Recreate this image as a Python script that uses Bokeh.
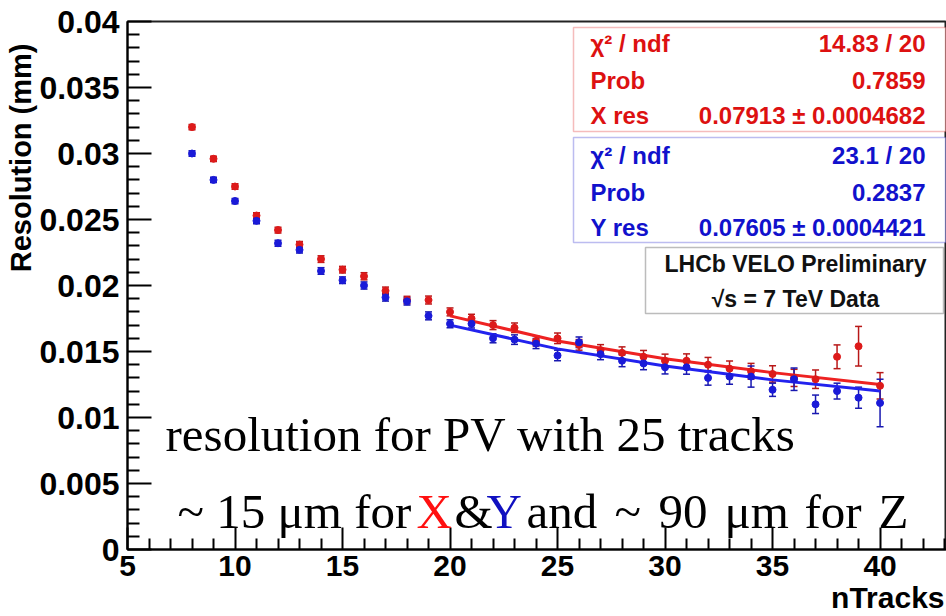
import math
from bokeh.plotting import figure
from bokeh.models import (ColumnDataSource, Whisker, TeeHead, FixedTicker, Label,
                          BoxAnnotation, Range1d, Title)
from bokeh.embed import file_html
from bokeh.resources import INLINE

# ---------------- data ----------------
n_tracks = [8, 9, 10, 11, 12, 13, 14, 15, 16, 17, 18, 19, 20, 21, 22, 23, 24,
            25, 26, 27, 28, 29, 30, 31, 32, 33, 34, 35, 36, 37, 38, 39, 40]

x_res = [0.0320, 0.0296, 0.0275, 0.0253, 0.0242, 0.0231, 0.0220, 0.0212, 0.0207,
         0.0196, 0.0189, 0.0189, 0.0180, 0.0175, 0.0170, 0.0168, 0.0158, 0.0160,
         0.0155, 0.0151, 0.0149, 0.0146, 0.0143, 0.0143, 0.0140, 0.0137, 0.0135,
         0.0133, 0.0130, 0.0129, 0.0146, 0.0154, 0.0124]
x_err = [0.00020, 0.00020, 0.00020, 0.00022, 0.00022, 0.00023, 0.00025, 0.00025,
         0.00027, 0.00028, 0.00028, 0.00030, 0.00030, 0.00032, 0.00034, 0.00036,
         0.00038, 0.00040, 0.00040, 0.00042, 0.00045, 0.00048, 0.00050, 0.00052,
         0.00055, 0.00058, 0.00060, 0.00062, 0.00065, 0.00070, 0.00090, 0.00150,
         0.00100]

y_res = [0.0300, 0.0280, 0.0264, 0.0249, 0.0232, 0.0227, 0.0211, 0.0204, 0.0200,
         0.0191, 0.0188, 0.0177, 0.0171, 0.0171, 0.0160, 0.0159, 0.0156, 0.0147,
         0.0157, 0.0148, 0.0143, 0.0141, 0.0138, 0.0138, 0.0130, 0.0131, 0.0131,
         0.0121, 0.0129, 0.0110, 0.0120, 0.0115, 0.0111]
y_err = [0.00020, 0.00020, 0.00020, 0.00022, 0.00022, 0.00023, 0.00025, 0.00025,
         0.00027, 0.00028, 0.00028, 0.00030, 0.00030, 0.00032, 0.00034, 0.00036,
         0.00038, 0.00040, 0.00040, 0.00042, 0.00045, 0.00048, 0.00050, 0.00052,
         0.00055, 0.00058, 0.00080, 0.00050, 0.00085, 0.00070, 0.00060, 0.00080,
         0.00180]

fit_n = [20, 25, 30, 35, 40]
fit_x = [0.0177, 0.0158, 0.01445, 0.0134, 0.0125]
fit_y = [0.0170, 0.0152, 0.0139, 0.01285, 0.0120]

x_ticks = [5, 10, 15, 20, 25, 30, 35, 40]
x_minor = [6, 7, 8, 9, 11, 12, 13, 14, 16, 17, 18, 19, 21, 22, 23, 24, 26, 27,
           28, 29, 31, 32, 33, 34, 36, 37, 38, 39, 41, 42, 43]
y_ticks = [0, 0.005, 0.01, 0.015, 0.02, 0.025, 0.03, 0.035, 0.04]
y_tick_labels = ["0", "0.005", "0.01", "0.015", "0.02", "0.025", "0.03", "0.035", "0.04"]
y_minor = [0.001, 0.002, 0.003, 0.004, 0.006, 0.007, 0.008, 0.009, 0.011, 0.012,
           0.013, 0.014, 0.016, 0.017, 0.018, 0.019, 0.021, 0.022, 0.023, 0.024,
           0.026, 0.027, 0.028, 0.029, 0.031, 0.032, 0.033, 0.034, 0.036, 0.037,
           0.038, 0.039]

RED = "#dd1a1a"
BLUE = "#1a1ad8"
RED_LINE = "#ee2222"
BLUE_LINE = "#2222ee"

# ---------------- figure ----------------
p = figure(width=946, height=616, output_backend="svg", toolbar_location=None,
           title=None, x_range=Range1d(5, 43.09), y_range=Range1d(0, 0.04),
           min_border_left=127, min_border_right=0, min_border_top=21,
           min_border_bottom=67)
p.background_fill_color = "white"
p.border_fill_color = "white"
p.xgrid.visible = False
p.ygrid.visible = False
p.outline_line_color = "#222222"
p.outline_line_width = 2

for ax in (p.xaxis[0], p.yaxis[0]):
    ax.axis_line_color = "black"
    ax.axis_line_width = 2
    ax.major_tick_line_color = "black"
    ax.minor_tick_line_color = "black"
    ax.major_tick_line_width = 2
    ax.minor_tick_line_width = 2
    ax.major_tick_out = 0
    ax.minor_tick_out = 0
    ax.major_label_text_font = "Liberation Sans"
    ax.major_label_text_font_style = "bold"
    ax.major_label_text_color = "black"

p.xaxis.ticker = FixedTicker(ticks=x_ticks, minor_ticks=x_minor)
p.xaxis.major_tick_in = 22
p.xaxis.minor_tick_in = 11
p.xaxis.major_label_standoff = 6
p.xaxis.major_label_text_font_size = "30px"

p.yaxis.ticker = FixedTicker(ticks=y_ticks, minor_ticks=y_minor)
p.yaxis.major_label_overrides = {t: s for t, s in zip(y_ticks, y_tick_labels)}
p.yaxis.major_tick_in = 24
p.yaxis.minor_tick_in = 12
p.yaxis.major_label_standoff = 8
p.yaxis.major_label_text_font_size = "32px"

# axis titles as side titles, pushed to the ends
p.add_layout(Title(text="Resolution (mm)", align="right", text_font="Liberation Sans",
                   text_font_size="29px", text_font_style="bold",
                   text_color="black", standoff=0, offset=22), "left")
p.add_layout(Title(text="nTracks", align="right", text_font="Liberation Sans",
                   text_font_size="30px", text_font_style="bold",
                   text_color="black", standoff=0, offset=2), "below")

# ---------------- data glyphs ----------------
src_x = ColumnDataSource(dict(n=n_tracks, v=x_res,
                              lo=[v - e for v, e in zip(x_res, x_err)],
                              hi=[v + e for v, e in zip(x_res, x_err)]))
src_y = ColumnDataSource(dict(n=n_tracks, v=y_res,
                              lo=[v - e for v, e in zip(y_res, y_err)],
                              hi=[v + e for v, e in zip(y_res, y_err)]))

for src, col in ((src_x, "#b81818"), (src_y, "#1818b0")):
    w = Whisker(source=src, base="n", lower="lo", upper="hi",
                line_color=col, line_width=1.5,
                lower_head=TeeHead(size=7, line_color=col, line_width=1.5),
                upper_head=TeeHead(size=7, line_color=col, line_width=1.5))
    p.add_layout(w)

p.line(fit_n, fit_x, line_color=RED_LINE, line_width=3)
p.line(fit_n, fit_y, line_color=BLUE_LINE, line_width=3)

p.scatter("n", "v", source=src_x, size=7, color=RED)
p.scatter("n", "v", source=src_y, size=7, color=BLUE)

# ---------------- stat boxes ----------------
def box(l, r, b, t, col):
    p.add_layout(BoxAnnotation(left=l, right=r, bottom=b, top=t,
                               left_units="screen", right_units="screen",
                               bottom_units="screen", top_units="screen",
                               fill_color="white", fill_alpha=1.0,
                               line_color=col, line_width=1.5))

def lab(x, y, text, col, size="24px", align="left", font="Liberation Sans",
        style="bold", angle=0.0, baseline="middle"):
    p.add_layout(Label(x=x, y=y, x_units="screen", y_units="screen", text=text,
                       text_color=col, text_font=font, text_font_size=size,
                       text_font_style=style, text_align=align,
                       text_baseline=baseline, angle=angle))

box(446, 818, 418, 522, "#dd2222")
box(446, 818, 307, 412, "#2222cc")
box(518, 816, 236, 302, "#222222")

TXT_RED = "#dd1111"
TXT_BLUE = "#1111cc"
rows_r = [(506, "\u03c7\u00b2 / ndf", "14.83 / 20"), (469, "Prob", "0.7859"),
          (434, "X res", "0.07913 \u00b1 0.0004682")]
rows_b = [(394, "\u03c7\u00b2 / ndf", "23.1 / 20"), (357, "Prob", "0.2837"),
          (322, "Y res", "0.07605 \u00b1 0.0004421")]
for yy, l_txt, r_txt in rows_r:
    lab(463, yy, l_txt, TXT_RED)
    lab(798, yy, r_txt, TXT_RED, align="right")
for yy, l_txt, r_txt in rows_b:
    lab(463, yy, l_txt, TXT_BLUE)
    lab(798, yy, r_txt, TXT_BLUE, align="right")

lab(668, 286, "LHCb VELO Preliminary", "#111111", size="23px", align="center")
lab(668, 251, "\u221as = 7 TeV Data", "#111111", size="23px", align="center")

# ---------------- big annotation text ----------------
SERIF = "Liberation Serif"
def serif(x, text, col="black", y=38, align="left"):
    lab(x, y, text, col, size="49px", font=SERIF, style="normal",
        baseline="alphabetic", align=align)

serif(38, "resolution for PV with 25 tracks", y=115)
serif(50, "~ 15 \u03bcm for")
serif(289, "X", "#ff1010")
serif(327, "&")
serif(359, "Y", "#1010c0")
serif(399, "and")
serif(487, "~")
serif(531, "90")
serif(597, "\u03bcm")
serif(677, "for")
serif(751, "Z")

open("out.html", "w").write(file_html(p, INLINE))
